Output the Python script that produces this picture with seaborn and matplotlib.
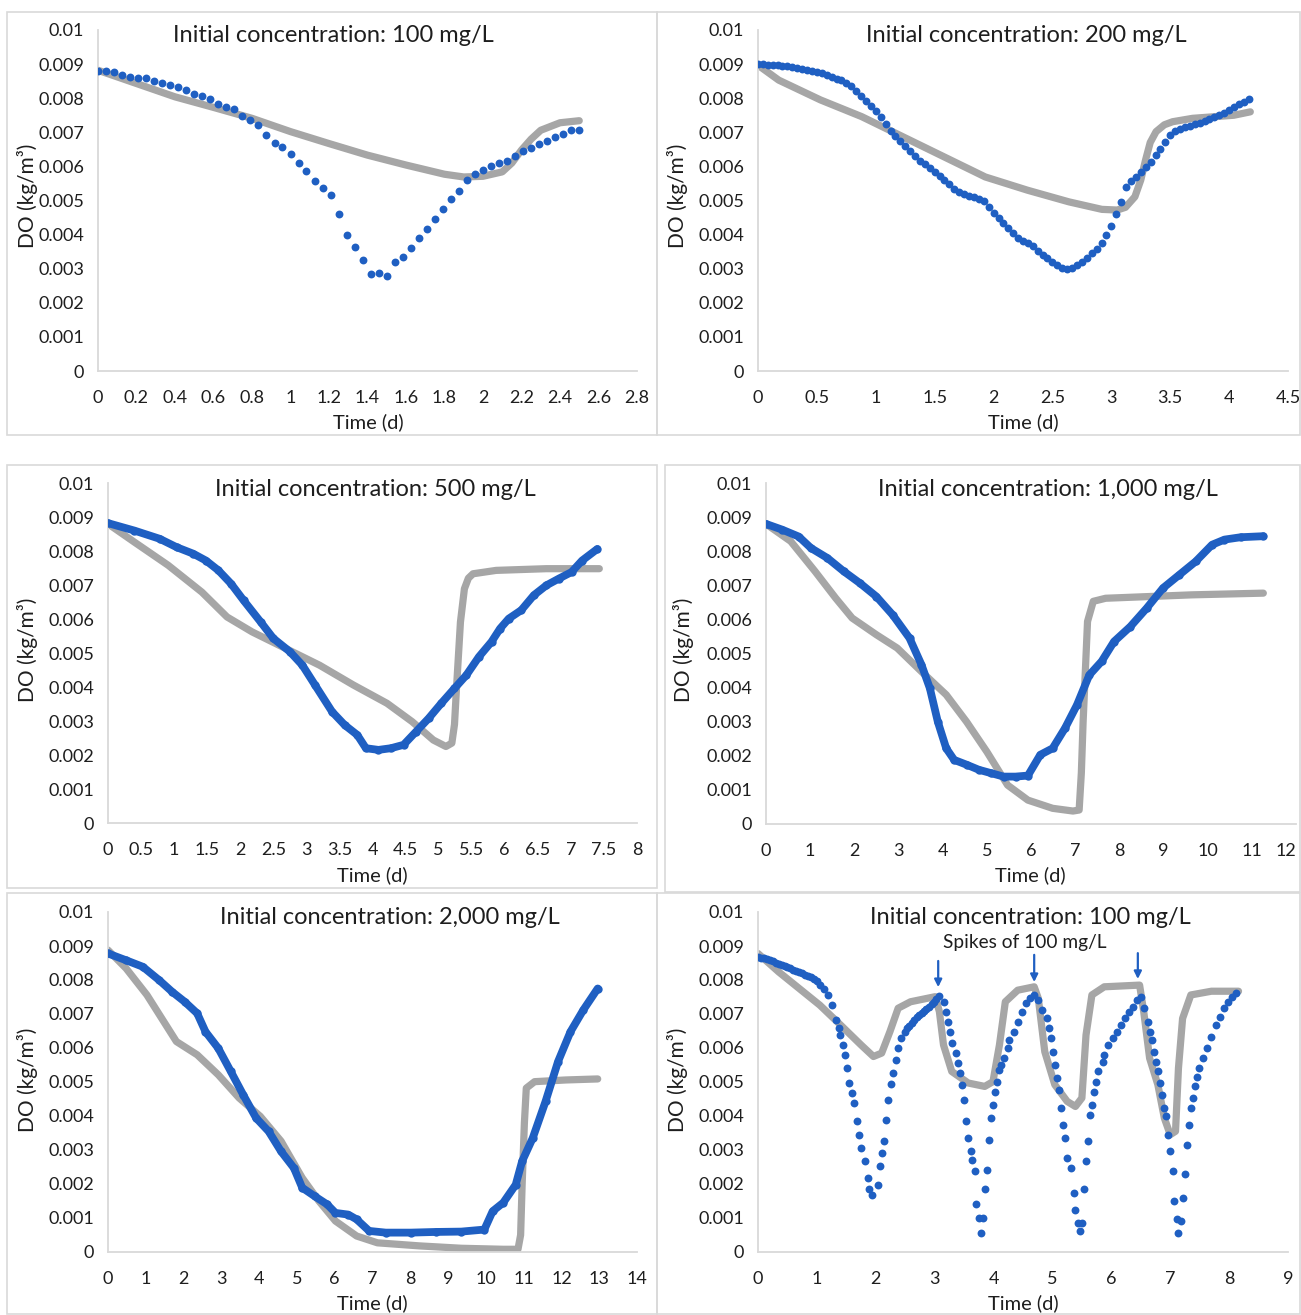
import numpy as np
import pandas as pd
import matplotlib
matplotlib.use("Agg")
import matplotlib.pyplot as plt
from matplotlib.patches import Rectangle
import seaborn as sns

# DO values are read in mg/L (= g/m3) and divided by 1000 below to get kg/m3

# --- panel 1: initial 100 mg/L ---
p1_obs_t = [0, 0.042, 0.083, 0.125, 0.167, 0.208, 0.25, 0.292, 0.333, 0.375,
            0.417, 0.458, 0.5, 0.542, 0.583, 0.625, 0.667, 0.708, 0.75, 0.792,
            0.833, 0.875, 0.917, 0.958, 1.0, 1.042, 1.083, 1.125, 1.167, 1.208,
            1.25, 1.292, 1.333, 1.375, 1.417, 1.458, 1.5, 1.542, 1.583, 1.625,
            1.667, 1.708, 1.75, 1.792, 1.833, 1.875, 1.917, 1.958, 2.0, 2.042,
            2.083, 2.125, 2.167, 2.208, 2.25, 2.292, 2.333, 2.375, 2.417, 2.458,
            2.5]
p1_obs_do = [8.81, 8.80, 8.76, 8.67, 8.62, 8.60, 8.58, 8.49, 8.45, 8.39,
             8.32, 8.24, 8.11, 8.07, 7.98, 7.82, 7.73, 7.67, 7.47, 7.37,
             7.20, 6.92, 6.70, 6.57, 6.35, 6.09, 5.86, 5.58, 5.37, 5.17,
             4.61, 4.00, 3.65, 3.26, 2.84, 2.88, 2.79, 3.19, 3.35, 3.62,
             3.89, 4.17, 4.46, 4.75, 5.04, 5.27, 5.59, 5.77, 5.88, 6.01,
             6.11, 6.17, 6.31, 6.44, 6.54, 6.65, 6.75, 6.87, 6.94, 7.07,
             7.08]
p1_mod_t = [0, 0.2, 0.4, 0.6, 0.8, 1.0, 1.2, 1.4, 1.6, 1.8, 1.9, 2.0, 2.1,
            2.15, 2.2, 2.25, 2.3, 2.4, 2.5]
p1_mod_do = [8.82, 8.43, 8.04, 7.73, 7.41, 7.02, 6.67, 6.33, 6.04, 5.77, 5.69,
             5.71, 5.84, 6.10, 6.48, 6.80, 7.06, 7.28, 7.34]

# --- panel 2: initial 200 mg/L ---
p2_obs_t = [0, 0.042, 0.083, 0.125, 0.167, 0.208, 0.25, 0.292, 0.333, 0.375,
            0.417, 0.458, 0.5, 0.542, 0.583, 0.625, 0.667, 0.708, 0.75, 0.792,
            0.833, 0.875, 0.917, 0.958, 1.0, 1.042, 1.083, 1.125, 1.167, 1.208,
            1.25, 1.292, 1.333, 1.375, 1.417, 1.458, 1.5, 1.542, 1.583, 1.625,
            1.667, 1.708, 1.75, 1.792, 1.833, 1.875, 1.917, 1.958, 2.0, 2.042,
            2.083, 2.125, 2.167, 2.208, 2.25, 2.292, 2.333, 2.375, 2.417, 2.458,
            2.5, 2.542, 2.583, 2.625, 2.667, 2.708, 2.75, 2.792, 2.833, 2.875,
            2.917, 2.958, 3.0, 3.042, 3.083, 3.125, 3.167, 3.208, 3.25, 3.292,
            3.333, 3.375, 3.417, 3.458, 3.5, 3.542, 3.583, 3.625, 3.667, 3.708,
            3.75, 3.792, 3.833, 3.875, 3.917, 3.958, 4.0, 4.042, 4.083, 4.125,
            4.167]
p2_obs_do = [9.00, 8.99, 8.98, 8.97, 8.96, 8.95, 8.93, 8.91, 8.89, 8.86,
             8.84, 8.81, 8.78, 8.74, 8.68, 8.63, 8.57, 8.52, 8.44, 8.35,
             8.22, 8.06, 7.92, 7.77, 7.62, 7.45, 7.25, 7.03, 6.88, 6.74,
             6.60, 6.45, 6.30, 6.17, 6.06, 5.95, 5.83, 5.71, 5.59, 5.47,
             5.35, 5.24, 5.18, 5.14, 5.10, 5.05, 4.98, 4.82, 4.64, 4.50,
             4.35, 4.20, 4.04, 3.90, 3.80, 3.74, 3.66, 3.52, 3.40, 3.30,
             3.20, 3.10, 3.02, 2.98, 3.02, 3.10, 3.20, 3.31, 3.45, 3.58,
             3.75, 3.98, 4.25, 4.60, 4.95, 5.40, 5.58, 5.70, 5.84, 5.97,
             6.12, 6.32, 6.52, 6.72, 6.92, 7.05, 7.10, 7.15, 7.19, 7.23,
             7.28, 7.33, 7.38, 7.44, 7.50, 7.58, 7.66, 7.74, 7.82, 7.90,
             7.98]
p2_mod_t = [0, 0.176, 0.53, 0.88, 1.23, 1.58, 1.93, 2.29, 2.64, 2.92, 3.05,
            3.12, 3.20, 3.25, 3.29, 3.33, 3.38, 3.45, 3.52, 3.69, 4.04, 4.18]
p2_mod_do = [8.97, 8.53, 7.95, 7.46, 6.87, 6.28, 5.69, 5.30, 4.96, 4.74, 4.72,
             4.80, 5.11, 5.60, 6.18, 6.70, 7.02, 7.22, 7.31, 7.41, 7.50, 7.60]

# --- panel 3: initial 500 mg/L ---
p3_obs_t = [0, 0.40, 0.78, 1.04, 1.29, 1.48, 1.67, 1.86, 2.05, 2.31, 2.50,
            2.75, 2.94, 3.13, 3.39, 3.58, 3.77, 3.90, 4.09, 4.28, 4.47, 4.66,
            4.85, 5.04, 5.24, 5.42, 5.61, 5.80, 5.93, 6.06, 6.25, 6.44, 6.63,
            6.82, 7.01, 7.17, 7.40]
p3_obs_do = [8.82, 8.60, 8.36, 8.11, 7.92, 7.72, 7.43, 7.04, 6.55, 5.91, 5.43,
             5.04, 4.64, 4.06, 3.27, 2.88, 2.59, 2.20, 2.15, 2.20, 2.30, 2.69,
             3.08, 3.52, 3.96, 4.35, 4.89, 5.33, 5.72, 6.01, 6.26, 6.70, 6.99,
             7.19, 7.38, 7.72, 8.06]
p3_mod_t = [0, 0.40, 0.91, 1.42, 1.80, 2.18, 2.69, 3.20, 3.71, 4.22, 4.60,
            4.92, 5.11, 5.20, 5.24, 5.27, 5.33, 5.39, 5.45, 5.52, 5.87, 6.63,
            7.43]
p3_mod_do = [8.80, 8.26, 7.58, 6.79, 6.06, 5.62, 5.13, 4.64, 4.06, 3.52, 2.98,
             2.44, 2.25, 2.35, 2.90, 3.96, 5.91, 6.89, 7.20, 7.33, 7.43, 7.48,
             7.48]

# --- panel 4: initial 1,000 mg/L ---
p4_obs_t = [0, 0.37, 0.74, 1.02, 1.39, 1.76, 2.13, 2.50, 2.87, 3.25, 3.52,
            3.71, 3.89, 4.08, 4.26, 4.54, 4.82, 5.10, 5.38, 5.65, 5.93, 6.21,
            6.49, 6.77, 7.04, 7.32, 7.60, 7.88, 8.25, 8.62, 8.99, 9.36, 9.73,
            10.10, 10.38, 10.75, 11.26]
p4_obs_do = [8.80, 8.63, 8.43, 8.09, 7.80, 7.41, 7.06, 6.67, 6.13, 5.45, 4.67,
             3.98, 3.00, 2.22, 1.88, 1.74, 1.59, 1.49, 1.39, 1.39, 1.42, 2.03,
             2.22, 2.81, 3.49, 4.37, 4.77, 5.35, 5.79, 6.33, 6.92, 7.31, 7.70,
             8.19, 8.34, 8.41, 8.44]
p4_mod_t = [0, 0.56, 1.11, 1.58, 1.95, 2.50, 2.97, 3.52, 4.08, 4.54, 5.00,
            5.47, 5.93, 6.49, 6.95, 7.09, 7.14, 7.18, 7.28, 7.41, 7.69, 9.64,
            11.26]
p4_mod_do = [8.80, 8.29, 7.41, 6.62, 6.04, 5.55, 5.16, 4.47, 3.79, 3.00, 2.12,
             1.14, 0.70, 0.46, 0.38, 0.41, 1.50, 3.00, 5.94, 6.53, 6.62, 6.72,
             6.77]

# --- panel 5: initial 2,000 mg/L ---
p5_obs_t = [0, 0.48, 0.92, 1.36, 1.70, 2.03, 2.36, 2.58, 2.92, 3.25, 3.58,
            3.92, 4.25, 4.58, 4.92, 5.14, 5.47, 5.80, 6.02, 6.36, 6.58, 6.91,
            7.35, 8.02, 8.68, 9.35, 9.96, 10.18, 10.46, 10.79, 10.96, 11.24,
            11.58, 11.91, 12.24, 12.58, 12.96]
p5_obs_do = [8.78, 8.58, 8.39, 7.99, 7.65, 7.36, 7.02, 6.48, 5.99, 5.31, 4.62,
             3.94, 3.55, 2.96, 2.47, 1.89, 1.64, 1.40, 1.15, 1.10, 0.96, 0.62,
             0.57, 0.57, 0.59, 0.60, 0.66, 1.20, 1.45, 1.98, 2.67, 3.35, 4.43,
             5.60, 6.48, 7.12, 7.75]
p5_mod_t = [0, 0.48, 1.03, 1.81, 2.36, 2.92, 3.47, 4.03, 4.58, 5.14, 5.58,
            6.02, 6.58, 7.13, 8.24, 9.35, 10.46, 10.85, 10.92, 10.96, 11.02,
            11.07, 11.29, 12.12, 12.96]
p5_mod_do = [8.88, 8.34, 7.56, 6.19, 5.80, 5.21, 4.53, 3.99, 3.26, 2.18, 1.50,
             0.91, 0.47, 0.27, 0.18, 0.11, 0.08, 0.08, 0.50, 1.98, 3.80, 4.82,
             5.01, 5.06, 5.09]

# --- panel 6: initial 100 mg/L with spikes of 100 mg/L ---
p6_obs_t = [0.00, 0.05, 0.10, 0.15, 0.20, 0.25, 0.30, 0.35, 0.40, 0.45, 0.50,
            0.55, 0.60, 0.65, 0.70, 0.75, 0.80, 0.85, 0.90, 0.95, 1.00, 1.05,
            1.12, 1.19, 1.26, 1.33, 1.37, 1.40, 1.44, 1.47, 1.51, 1.54, 1.60,
            1.63, 1.68, 1.72, 1.75, 1.82, 1.86, 1.89, 1.93, 2.03, 2.07, 2.10,
            2.14, 2.17, 2.21, 2.25, 2.30, 2.35, 2.38, 2.43, 2.49, 2.53, 2.57,
            2.61, 2.65, 2.70, 2.74, 2.78, 2.82, 2.86, 2.90, 2.95, 2.99, 3.03,
            3.07,
            3.15, 3.19, 3.22, 3.26, 3.29, 3.36, 3.40, 3.43, 3.47, 3.50, 3.54,
            3.57, 3.61, 3.64, 3.68, 3.71, 3.75, 3.78, 3.82, 3.85, 3.89, 3.92,
            3.96, 3.99, 4.03, 4.06, 4.10, 4.13, 4.17, 4.24, 4.27, 4.34, 4.41,
            4.48, 4.55, 4.62, 4.69,
            4.76, 4.83, 4.90, 4.94, 4.97, 5.01, 5.04, 5.08, 5.11, 5.15, 5.18,
            5.22, 5.25, 5.32, 5.36, 5.39, 5.43, 5.46, 5.50, 5.53, 5.57, 5.60,
            5.64, 5.67, 5.71, 5.74, 5.78, 5.85, 5.88, 5.95, 6.02, 6.09, 6.16,
            6.23, 6.30, 6.37, 6.44, 6.51,
            6.55, 6.62, 6.65, 6.69, 6.72, 6.76, 6.79, 6.83, 6.86, 6.90, 6.93,
            6.97, 7.00, 7.04, 7.07, 7.11, 7.14, 7.18, 7.21, 7.25, 7.28, 7.32,
            7.35, 7.39, 7.42, 7.46, 7.49, 7.56, 7.63, 7.70, 7.77, 7.84, 7.91,
            7.98, 8.05, 8.12]
p6_obs_do = [8.68, 8.66, 8.64, 8.61, 8.58, 8.55, 8.51, 8.48, 8.44, 8.41, 8.37,
             8.34, 8.30, 8.27, 8.24, 8.20, 8.16, 8.12, 8.08, 8.04, 7.97, 7.86,
             7.75, 7.56, 7.26, 6.82, 6.58, 6.38, 6.09, 5.80, 5.41, 4.97, 4.67,
             4.38, 3.84, 3.45, 3.06, 2.67, 2.18, 1.84, 1.69, 1.98, 2.52, 2.91,
             3.26, 3.89, 4.48, 4.95, 5.26, 5.65, 5.99, 6.29, 6.48, 6.58, 6.66,
             6.74, 6.82, 6.90, 6.98, 7.04, 7.10, 7.16, 7.22, 7.29, 7.36, 7.45,
             7.52,
             7.36, 7.07, 6.77, 6.48, 6.14, 5.85, 5.55, 5.26, 4.92, 4.48, 3.84,
             3.35, 2.96, 2.72, 2.38, 1.40, 1.01, 0.57, 1.01, 1.84, 2.42, 3.30,
             3.94, 4.33, 4.72, 5.01, 5.36, 5.50, 5.70, 5.99, 6.24, 6.48, 6.77,
             7.07, 7.31, 7.46, 7.56,
             7.41, 7.12, 6.87, 6.58, 6.29, 5.89, 5.50, 5.11, 4.77, 4.23, 3.74,
             3.35, 2.77, 2.47, 1.74, 1.25, 0.86, 0.62, 0.86, 1.84, 2.67, 3.26,
             4.04, 4.33, 4.72, 5.01, 5.31, 5.60, 5.80, 6.09, 6.29, 6.48, 6.68,
             6.87, 7.07, 7.21, 7.41, 7.51,
             7.17, 6.77, 6.48, 6.24, 5.89, 5.60, 5.31, 4.97, 4.62, 4.23, 3.99,
             3.45, 2.96, 2.38, 1.50, 0.96, 0.57, 0.91, 1.59, 2.28, 3.16, 3.74,
             4.23, 4.53, 4.87, 5.16, 5.41, 5.70, 5.99, 6.33, 6.68, 6.92, 7.17,
             7.36, 7.51, 7.61]
p6_mod_t = [0, 0.35, 0.70, 1.05, 1.40, 1.75, 1.96, 2.10, 2.24, 2.38, 2.59,
            3.01, 3.08, 3.15, 3.29, 3.57, 3.85, 3.99, 4.10, 4.20, 4.41, 4.69,
            4.76, 4.87, 5.04, 5.25, 5.39, 5.50, 5.57, 5.67, 5.88, 6.48, 6.55,
            6.65, 6.79, 6.90, 7.00, 7.09, 7.14, 7.21, 7.35, 7.70, 8.16]
p6_mod_do = [8.78, 8.24, 7.75, 7.26, 6.68, 6.09, 5.75, 5.85, 6.48, 7.17, 7.36,
             7.51, 7.07, 6.09, 5.31, 4.97, 4.87, 5.01, 6.09, 7.36, 7.70, 7.80,
             7.46, 5.89, 4.92, 4.43, 4.28, 4.53, 6.38, 7.56, 7.80, 7.85, 7.07,
             5.70, 4.92, 3.94, 3.45, 3.55, 5.41, 6.87, 7.56, 7.67, 7.67]
spike_t = [3.06, 4.69, 6.45]
spike_tail = [8.56, 8.74, 8.79]
spike_tip = [7.79, 7.94, 8.03]

titles = ["Initial concentration: 100 mg/L", "Initial concentration: 200 mg/L",
          "Initial concentration: 500 mg/L", "Initial concentration: 1,000 mg/L",
          "Initial concentration: 2,000 mg/L", "Initial concentration: 100 mg/L"]
y_ticks = [0, 0.001, 0.002, 0.003, 0.004, 0.005, 0.006, 0.007, 0.008, 0.009, 0.01]
y_tick_labels = ["0", "0.001", "0.002", "0.003", "0.004", "0.005", "0.006",
                 "0.007", "0.008", "0.009", "0.01"]
x_tick_labels = [
    ["0", "0.2", "0.4", "0.6", "0.8", "1", "1.2", "1.4", "1.6", "1.8", "2",
     "2.2", "2.4", "2.6", "2.8"],
    ["0", "0.5", "1", "1.5", "2", "2.5", "3", "3.5", "4", "4.5"],
    ["0", "0.5", "1", "1.5", "2", "2.5", "3", "3.5", "4", "4.5", "5", "5.5",
     "6", "6.5", "7", "7.5", "8"],
    [str(v) for v in range(13)],
    [str(v) for v in range(15)],
    [str(v) for v in range(10)],
]

sns.set_theme(style="white")
plt.rcParams["font.family"] = ["Lato", "DejaVu Sans"]

BLUE = "#1f5fc2"
GREY = "#a6a6a6"
FRAME = "#d9d9d9"
TXT = "#1e1e1e"

W, H = 1301, 1315
fig = plt.figure(figsize=(W / 100, H / 100), dpi=100)


def px_box(x0, x1, y0, y1):
    return [x0 / W, 1 - y1 / H, (x1 - x0) / W, (y1 - y0) / H]


# panel frames (pixels: left, right, top, bottom)
frames = [(7, 657, 12, 435), (657, 1300, 12, 435),
          (7, 657, 465, 888), (665, 1300, 465, 892),
          (7, 657, 893, 1314), (657, 1300, 893, 1314)]
for x0, x1, y0, y1 in frames:
    fig.add_artist(Rectangle((x0 / W, 1 - y1 / H), (x1 - x0) / W, (y1 - y0) / H,
                             transform=fig.transFigure, fill=False,
                             ec=FRAME, lw=1.2))

# axes placement (pixels: x of 0, x of xmax, y of 0.01, y of 0)
axes_px = [(98, 637, 30, 371), (758, 1288, 30, 371),
           (108, 637, 483, 823), (766, 1296, 483, 824),
           (108, 637, 912, 1252), (758, 1288, 912, 1252)]
title_px = [(333, 35), (1026, 35), (375, 489), (1048, 489), (390, 917), (1030, 917)]
xlabel_px = [(368, 422), (1023, 422), (372, 875), (1030, 875), (372, 1303), (1023, 1303)]
ylabel_px = [(27, 196), (677, 196), (27, 650), (683, 650), (27, 1080), (677, 1080)]

series = [
    (p1_obs_t, p1_obs_do, p1_mod_t, p1_mod_do, "dots"),
    (p2_obs_t, p2_obs_do, p2_mod_t, p2_mod_do, "dots"),
    (p3_obs_t, p3_obs_do, p3_mod_t, p3_mod_do, "line"),
    (p4_obs_t, p4_obs_do, p4_mod_t, p4_mod_do, "line"),
    (p5_obs_t, p5_obs_do, p5_mod_t, p5_mod_do, "line"),
    (p6_obs_t, p6_obs_do, p6_mod_t, p6_mod_do, "dots"),
]

axes = []
for i, (ot, odo, mt, mdo, kind) in enumerate(series):
    ax = fig.add_axes(px_box(*axes_px[i]))
    ax.patch.set_alpha(0)
    labels = x_tick_labels[i]
    xt = [float(s) for s in labels]
    ax.set_xlim(0, xt[-1])
    ax.set_ylim(0, 0.01)

    mod = pd.DataFrame({"t": mt, "do": np.array(mdo) / 1000})
    obs = pd.DataFrame({"t": ot, "do": np.array(odo) / 1000})

    sns.lineplot(data=mod, x="t", y="do", ax=ax, color=GREY, linewidth=5.2,
                 estimator=None, sort=False, solid_capstyle="round",
                 solid_joinstyle="round", zorder=2)
    if kind == "dots":
        sns.scatterplot(data=obs, x="t", y="do", ax=ax, color=BLUE, s=32,
                        linewidth=0, zorder=3)
    else:
        sns.lineplot(data=obs, x="t", y="do", ax=ax, color=BLUE, linewidth=5.6,
                     estimator=None, sort=False, marker="o", markersize=6,
                     markeredgewidth=0, solid_capstyle="round",
                     solid_joinstyle="round", zorder=3)

    ax.set_xticks(xt, labels)
    ax.set_yticks(y_ticks, y_tick_labels)
    ax.tick_params(length=0, labelsize=13, colors=TXT)
    ax.tick_params(axis="y", pad=10)
    ax.tick_params(axis="x", pad=14)
    ax.set_xlabel("")
    ax.set_ylabel("")
    for side in ["top", "right"]:
        ax.spines[side].set_visible(False)
    for side in ["left", "bottom"]:
        ax.spines[side].set_color(FRAME)
        ax.spines[side].set_linewidth(1.3)
    ax.grid(False)
    axes.append(ax)

    fig.text(title_px[i][0] / W, 1 - title_px[i][1] / H, titles[i],
             ha="center", va="center", fontsize=17, color=TXT)
    fig.text(xlabel_px[i][0] / W, 1 - xlabel_px[i][1] / H, "Time (d)",
             ha="center", va="center", fontsize=14.5, color=TXT)
    fig.text(ylabel_px[i][0] / W, 1 - ylabel_px[i][1] / H, "DO (kg/m³)",
             ha="center", va="center", rotation=90, fontsize=15, color=TXT)

# the "12" at the right edge of panel 4 sits on the figure border
axes[3].get_xticklabels()[-1].set_horizontalalignment("right")

# spike annotations on the last panel
ax6 = axes[5]
for t, tail, tip in zip(spike_t, spike_tail, spike_tip):
    ax6.annotate("", xy=(t, tip / 1000), xytext=(t, tail / 1000),
                 arrowprops=dict(arrowstyle="-|>", color=BLUE, lw=1.6,
                                 mutation_scale=11, shrinkA=0, shrinkB=0),
                 zorder=4)
ax6.text(4.53, 0.00909, "Spikes of 100 mg/L", ha="center", va="center",
         fontsize=13.8, color=TXT)

fig.savefig("out.png", dpi=100)
